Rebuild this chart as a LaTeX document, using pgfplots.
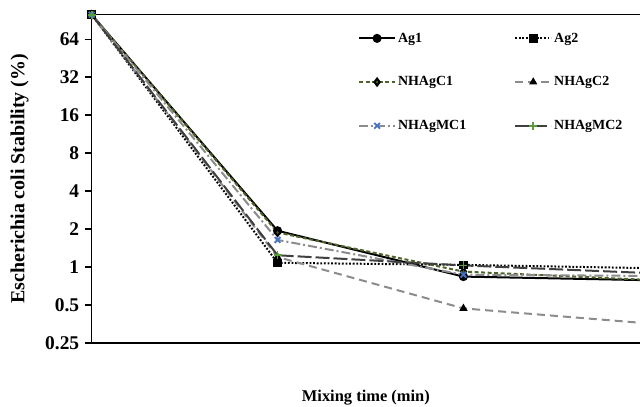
\documentclass[border=0pt]{standalone}
\usepackage{fontspec}
\setmainfont{Liberation Serif}
\usepackage{pgfplots}
\pgfplotsset{compat=1.18}
\definecolor{cgreen}{HTML}{4F6228}
\definecolor{cplus}{HTML}{5A9E3A}
\definecolor{cblue}{HTML}{4472C4}
\definecolor{cgray}{HTML}{8C8C8C}
\definecolor{cdark}{HTML}{404040}
\begin{document}
\begin{tikzpicture}
\begin{axis}[
  name=ax,
  scale only axis,
  width=548.3bp, height=328.3bp,
  xmin=0, xmax=2.95,
  ymode=log, log basis y=2,
  ymin=0.25, ymax=100,
  axis x line*=bottom, axis y line*=left,
  axis line style={line width=1.3bp},
  xtick=\empty,
  ytick={0.25,0.5,1,2,4,8,16,32,64},
  yticklabels={0.25,0.5,1,2,4,8,16,32,64},
  tick align=outside,
  major tick length=7bp,
  tick style={line width=1.3bp, black},
  yticklabel style={font=\bfseries\fontsize{19.5}{19.5}\selectfont, xshift=-2bp},
  xlabel={Mixing time (min)},
  ylabel={Escherichia coli Stability (\%)},
  every axis x label/.style={at={([yshift=-55bp]axis description cs:0.5,0)}, anchor=center, font=\bfseries\fontsize{16.5}{16.5}\selectfont},
  every axis y label/.style={at={([xshift=-72bp]axis description cs:0,0.5)}, anchor=center, rotate=90, font=\bfseries\fontsize{20}{20}\selectfont},
  legend columns=2,
  legend cell align=left,
  legend style={draw=none, fill=none, at={(0.48,0.957)}, anchor=north west,
    font=\bfseries\fontsize{14}{14}\selectfont, row sep=29bp,
    /tikz/every even column/.append style={column sep=46bp}},
  legend image code/.code={\draw[mark repeat=2,mark phase=2,#1] plot coordinates {(0bp,0bp)(18bp,0bp)(36bp,0bp)};},
  every axis plot/.append style={line width=2bp},
]
\addplot[black, mark=*, mark size=3.5bp, mark options={solid, fill=black}] coordinates {(0,100) (1,1.94) (2,0.84) (3,0.786)};
\addlegendentry{Ag1}
\addplot[black, dash pattern=on 1.8bp off 1.8bp, mark=square*, mark size=3.3bp, mark options={solid, fill=black}] coordinates {(0,100) (1,1.08) (2,1.04) (3,0.98)};
\addlegendentry{Ag2}
\addplot[cgreen, dash pattern=on 4bp off 2.5bp, mark=diamond*, mark size=3.5bp, mark options={solid, draw=black, fill=cgreen}] coordinates {(0,100) (1,1.88) (2,0.92) (3,0.79)};
\addlegendentry{NHAgC1}
\addplot[cgray, dash pattern=on 8bp off 5bp, mark=triangle*, mark size=2.8bp, mark options={solid, draw=black, fill=black}] coordinates {(0,100) (1,1.2) (2,0.47) (3,0.357)};
\addlegendentry{NHAgC2}
\addplot[cgray, dash pattern=on 9bp off 3bp on 2bp off 3bp, mark=x, mark size=4bp, mark options={solid, cblue, line width=1.8bp}] coordinates {(0,100) (1,1.64) (2,0.87) (3,0.85)};
\addlegendentry{NHAgMC1}
\addplot[cdark, dash pattern=on 14bp off 4bp, mark=+, mark size=4bp, mark options={solid, cplus, line width=1.8bp}] coordinates {(0,100) (1,1.24) (2,1.03) (3,0.895)};
\addlegendentry{NHAgMC2}
\draw[line width=1.3bp] (rel axis cs:0,1) -- (rel axis cs:1,1);
\end{axis}
\pgfresetboundingbox
\path[use as bounding box] ([xshift=-91.7bp,yshift=-64bp]ax.south west) rectangle ([yshift=14.7bp]ax.north east);
\end{tikzpicture}
\end{document}
